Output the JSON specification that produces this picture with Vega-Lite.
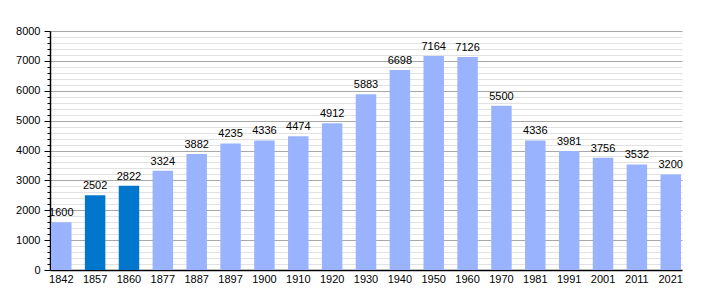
{
  "$schema": "https://vega.github.io/schema/vega-lite/v6.json",
  "width": 632,
  "height": 239,
  "autosize": {"type": "none"},
  "padding": {"left": 50, "top": 31, "right": 28, "bottom": 30},
  "background": "white",
  "config": {
    "view": {"stroke": null},
    "font": "Liberation Sans",
    "axis": {"labelFont": "Liberation Sans", "labelFontSize": 11, "labelColor": "#000", "domainColor": "#000"}
  },
  "data": {
    "values": [
      {"year": "1842", "pop": 1600, "type": "a"},
      {"year": "1857", "pop": 2502, "type": "b"},
      {"year": "1860", "pop": 2822, "type": "b"},
      {"year": "1877", "pop": 3324, "type": "a"},
      {"year": "1887", "pop": 3882, "type": "a"},
      {"year": "1897", "pop": 4235, "type": "a"},
      {"year": "1900", "pop": 4336, "type": "a"},
      {"year": "1910", "pop": 4474, "type": "a"},
      {"year": "1920", "pop": 4912, "type": "a"},
      {"year": "1930", "pop": 5883, "type": "a"},
      {"year": "1940", "pop": 6698, "type": "a"},
      {"year": "1950", "pop": 7164, "type": "a"},
      {"year": "1960", "pop": 7126, "type": "a"},
      {"year": "1970", "pop": 5500, "type": "a"},
      {"year": "1981", "pop": 4336, "type": "a"},
      {"year": "1991", "pop": 3981, "type": "a"},
      {"year": "2001", "pop": 3756, "type": "a"},
      {"year": "2011", "pop": 3532, "type": "a"},
      {"year": "2021", "pop": 3200, "type": "a"}
    ]
  },
  "encoding": {
    "x": {
      "field": "year", "type": "ordinal", "sort": null,
      "scale": {"paddingInner": 0.395, "paddingOuter": 0.03},
      "axis": {"title": null, "labelAngle": 0, "ticks": false, "labelPadding": 3, "domainWidth": 1.5}
    },
    "y": {
      "field": "pop", "type": "quantitative",
      "scale": {"domain": [0, 8000], "nice": false},
      "axis": {
        "title": null,
        "values": [0,200,400,600,800,1000,1200,1400,1600,1800,2000,2200,2400,2600,2800,3000,3200,3400,3600,3800,4000,4200,4400,4600,4800,5000,5200,5400,5600,5800,6000,6200,6400,6600,6800,7000,7200,7400,7600,7800,8000],
        "labelExpr": "datum.value % 1000 === 0 ? datum.value + '' : ''",
        "gridColor": {"condition": {"test": "datum.value % 1000 === 0", "value": "#a8a8a8"}, "value": "#e2e2e2"},
        "tickColor": "#000",
        "tickSize": {"condition": {"test": "datum.value % 1000 === 0", "value": 6}, "value": 3},
        "labelPadding": 4,
        "domainWidth": 1.5
      }
    }
  },
  "layer": [
    {
      "mark": {"type": "bar"},
      "encoding": {
        "color": {"field": "type", "type": "nominal", "scale": {"domain": ["a", "b"], "range": ["#99b3ff", "#0077cc"]}, "legend": null}
      }
    },
    {
      "mark": {"type": "text", "baseline": "bottom", "dy": -4, "fontSize": 11, "color": "#000", "font": "Liberation Sans"},
      "encoding": {"text": {"field": "pop", "type": "quantitative", "format": "d"}}
    }
  ]
}
